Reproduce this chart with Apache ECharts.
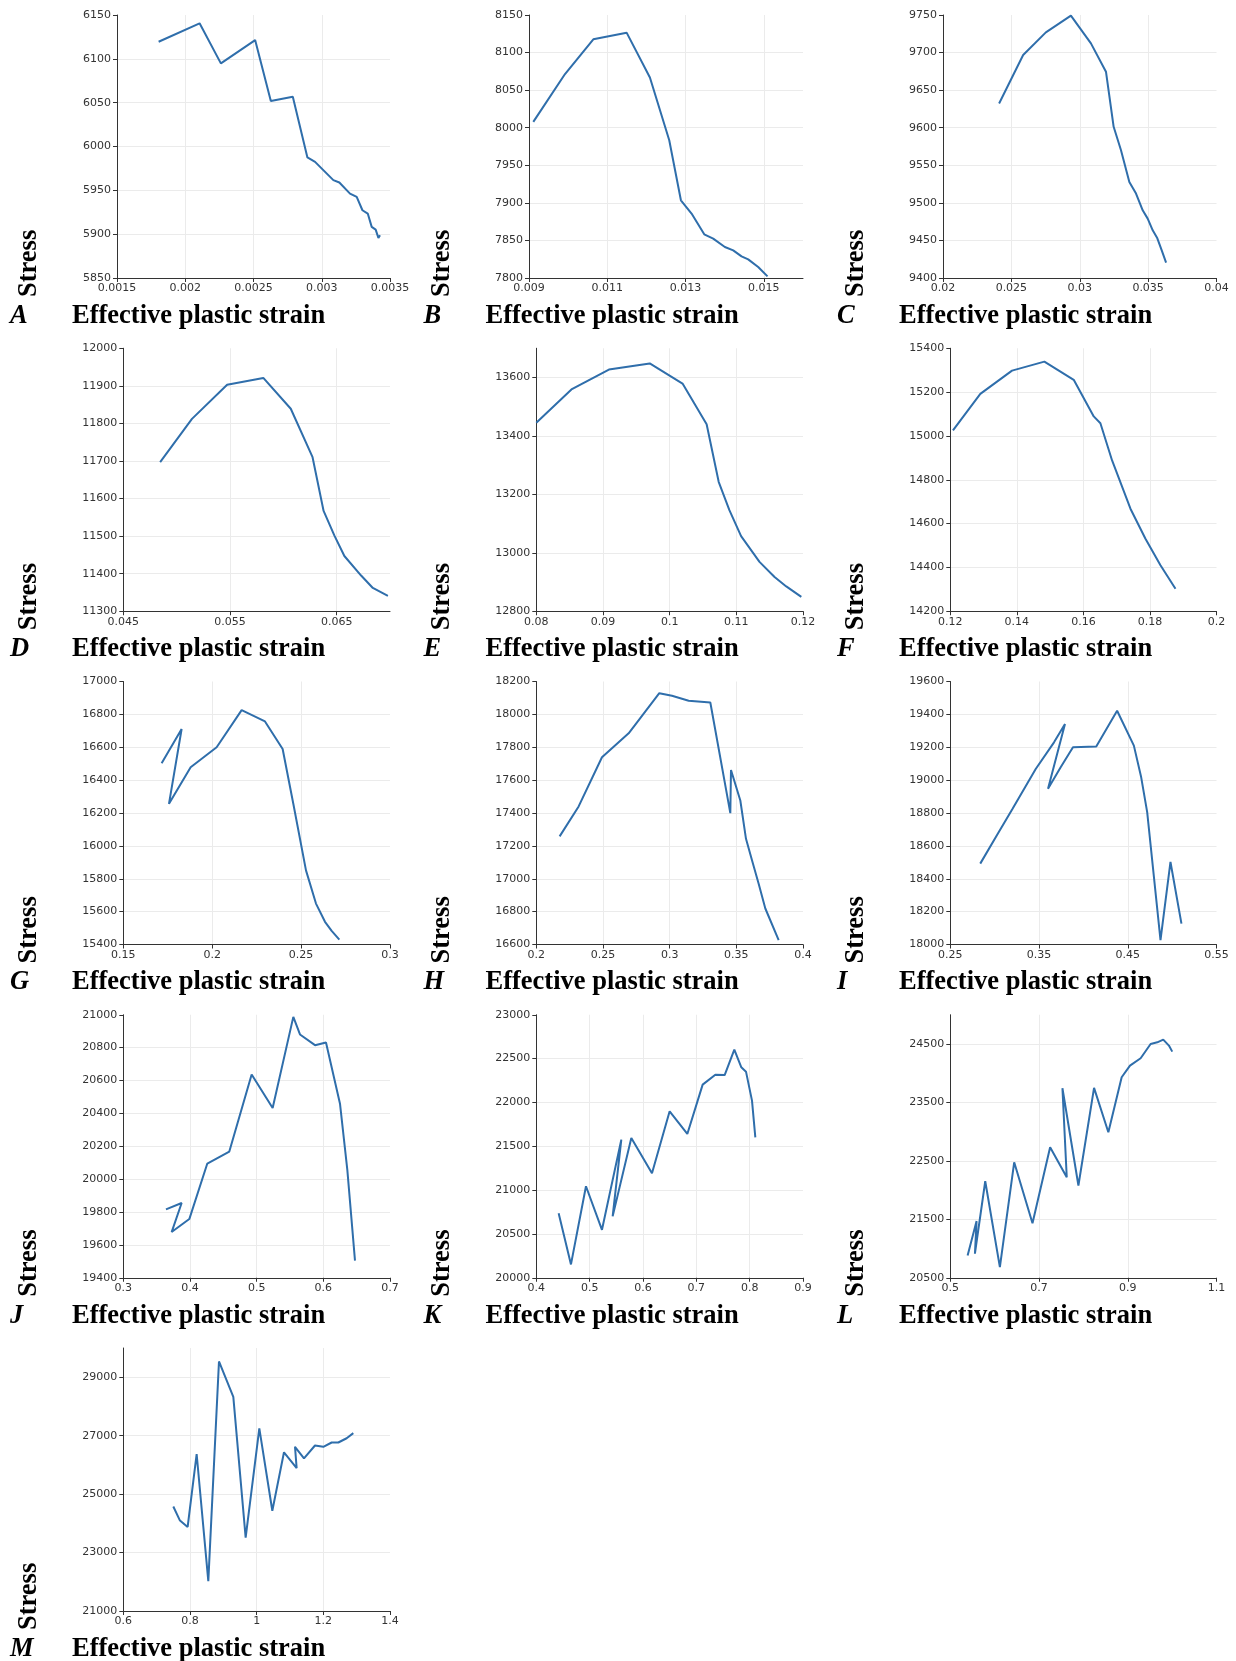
<!DOCTYPE html>
<html>
<head>
<meta charset="utf-8">
<script src="https://cdn.jsdelivr.net/npm/echarts@6/dist/echarts.min.js"></script>
<style>
html,body{margin:0;padding:0;background:#fff;}
#chart{width:1236px;height:1661px;}
</style>
</head>
<body>
<div id="chart"></div>
<script>
// ---------- data ----------
const panelLetters = ['A','B','C','D','E','F','G','H','I','J','K','L','M'];
const xAxisTitle = 'Effective plastic strain';
const yAxisTitle = 'Stress';

const strainA = [0.001805,0.002105,0.002261,0.002512,0.002627,0.002788,0.002895,0.002951,0.003085,0.003129,0.003207,0.003256,0.003298,0.003337,0.003366,0.003395,0.003415,0.003427];
const stressA = [6119.5,6140.5,6094.8,6121.4,6051.8,6056.7,5987.5,5982.5,5961.6,5958.9,5946.3,5942.5,5927.3,5923.5,5908.3,5905.2,5895.7,5898.8];

const strainB = [0.00911,0.00992,0.010643,0.011494,0.012089,0.012583,0.012881,0.013153,0.013477,0.013706,0.014004,0.014217,0.01443,0.0146,0.014855,0.015094];
const stressB = [8007.8,8071.4,8117.6,8126.5,8066.9,7983.4,7903.4,7885.7,7858.1,7852.4,7841.3,7836.8,7828.8,7824.8,7814.6,7802.2];

const strainC = [0.024103,0.025861,0.027521,0.029353,0.030818,0.031917,0.032479,0.033016,0.033626,0.034115,0.034603,0.034969,0.035336,0.035653,0.035995,0.036313];
const stressC = [9632.3,9696.7,9726.9,9749.1,9712.2,9674.5,9601.2,9570.1,9527.9,9512.3,9490.1,9479.0,9463.5,9453.7,9436.8,9420.4];

const strainD = [0.048454,0.051436,0.054733,0.058124,0.060699,0.06274,0.063776,0.06478,0.065722,0.067292,0.068391,0.069804];
const stressD = [11697,11812,11903,11921,11839,11710,11567,11502,11447,11395,11362,11341];

const strainE = [0.08,0.08527,0.090891,0.097014,0.101932,0.105546,0.107353,0.108959,0.110715,0.113476,0.115734,0.117491,0.119749];
const stressE = [13445,13559,13627,13648,13579,13440,13243,13146,13057,12969,12917,12885,12849];

const strainF = [0.1208,0.12902,0.13855,0.14827,0.15709,0.16311,0.16511,0.16862,0.17414,0.17865,0.18316,0.18767];
const stressF = [15025,15192,15298,15339,15256,15089,15058,14888,14668,14531,14410,14303];

const strainG = [0.17156,0.18281,0.17569,0.18788,0.2025,0.21656,0.22969,0.23962,0.24562,0.25275,0.25837,0.26344,0.26719,0.2715];
const stressG = [16502,16711,16256,16478,16600,16826,16757,16589,16256,15851,15649,15538,15483,15430];

const strainH = [0.2175,0.23175,0.24925,0.26925,0.29225,0.30175,0.31425,0.3305,0.3455,0.346,0.353,0.35725,0.36175,0.36675,0.37175,0.38175];
const stressH = [17258,17440,17739,17885,18129,18113,18083,18072,17399,17662,17476,17243,17112,16970,16819,16626];

const strainI = [0.28375,0.3025,0.32,0.34625,0.36688,0.37925,0.36013,0.37438,0.38825,0.4145,0.438,0.45688,0.46513,0.47188,0.48688,0.49813,0.5105];
const stressI = [18492,18664,18825,19068,19230,19341,18947,19078,19200,19204,19422,19210,19017,18805,18026,18502,18127];

const strainJ = [0.364,0.3875,0.3725,0.399,0.426,0.459,0.4925,0.524,0.555,0.565,0.5875,0.604,0.625,0.636,0.6475];
const stressJ = [19816,19855,19678,19757,20095,20168,20636,20433,20987,20880,20815,20831,20459,20056,19504];

const strainK = [0.44188,0.465,0.49313,0.52313,0.55938,0.54313,0.57813,0.61688,0.65,0.68313,0.71188,0.73563,0.75313,0.77125,0.78438,0.79313,0.80438,0.81063];
const stressK = [20736,20152,21044,20547,21576,20700,21595,21192,21899,21640,22203,22316,22312,22601,22400,22351,22020,21602];

const strainL = [0.539,0.55925,0.5555,0.57875,0.61175,0.644,0.68525,0.725,0.7625,0.75275,0.78875,0.824,0.85625,0.88625,0.905,0.929,0.9515,0.9665,0.98,0.99275,1.00025];
const stressL = [20882,21469,20911,22151,20682,22476,21434,22732,22219,23742,22078,23748,22990,23930,24130,24255,24500,24528,24574,24472,24369];

const strainM = [0.75,0.77,0.793,0.82,0.855,0.887,0.93,0.967,1.008,1.047,1.082,1.12,1.115,1.142,1.175,1.2,1.225,1.245,1.27,1.29];
const stressM = [24577,24095,23876,26372,22022,29540,28328,23511,27248,24431,26431,25891,26620,26226,26664,26620,26766,26766,26912,27087];

// axis ranges / tick steps
const xMins  = [0.0015,0.009,0.02,0.045,0.08,0.12,0.15,0.2,0.25,0.3,0.4,0.5,0.6];
const xMaxs  = [0.0035,0.016,0.04,0.07,0.12,0.2,0.3,0.4,0.55,0.7,0.9,1.1,1.4];
const xSteps = [0.0005,0.002,0.005,0.01,0.01,0.02,0.05,0.05,0.1,0.1,0.1,0.2,0.2];
const yMins  = [5850,7800,9400,11300,12800,14200,15400,16600,18000,19400,20000,20500,21000];
const yMaxs  = [6150,8150,9750,12000,13700,15400,17000,18200,19600,21000,23000,25000,30000];
const ySteps = [50,50,50,100,200,200,200,200,200,200,500,1000,2000];

const strains = [strainA,strainB,strainC,strainD,strainE,strainF,strainG,strainH,strainI,strainJ,strainK,strainL,strainM];
const stresses = [stressA,stressB,stressC,stressD,stressE,stressF,stressG,stressH,stressI,stressJ,stressK,stressL,stressM];

// ---------- layout / style ----------
const LINE_COLOR = '#2f6eab';
const AXIS_COLOR = '#333';
const GRID_COLOR = '#ebebeb';
const LABEL_FONT = 'DejaVu Sans';
const SERIF = 'Liberation Serif';
const rowPitch = 333.25;
const colPitch = 413.5;
const leftRow0 = [117, 529, 943];
const leftOther = [123.3, 536.3, 950.3];
const rightEdge = [390, 803, 1216.5];

function isMultiple(a, b) { const r = a / b; return Math.abs(r - Math.round(r)) < 1e-6; }
function fmt(v) { return String(parseFloat(Number(v).toFixed(8))); }

const grids = [], xAxes = [], yAxes = [], series = [], graphics = [];
for (let i = 0; i < panelLetters.length; i++) {
  const r = Math.floor(i / 3), c = i % 3;
  const top = 15 + rowPitch * r;
  const bottom = top + 263;
  const left = (r === 0 ? leftRow0 : leftOther)[c];
  grids.push({ left: left, top: top, width: rightEdge[c] - left, height: 263, containLabel: false });
  const axisCommon = {
    type: 'value',
    axisLine: { show: true, lineStyle: { color: AXIS_COLOR, width: 1 } },
    axisTick: { show: true, length: 4, lineStyle: { color: AXIS_COLOR } },
    splitLine: { show: true, showMinLine: false, showMaxLine: false, lineStyle: { color: GRID_COLOR, width: 1 } },
  };
  xAxes.push(Object.assign({}, axisCommon, {
    gridIndex: i, min: xMins[i], max: xMaxs[i], interval: xSteps[i],
    axisLabel: { color: '#333', fontFamily: LABEL_FONT, fontSize: 11, margin: 5,
      showMaxLabel: isMultiple(xMaxs[i] - xMins[i], xSteps[i]), showMinLabel: true, formatter: fmt }
  }));
  yAxes.push(Object.assign({}, axisCommon, {
    gridIndex: i, min: yMins[i], max: yMaxs[i], interval: ySteps[i],
    axisLabel: { color: '#333', fontFamily: LABEL_FONT, fontSize: 11, margin: 6,
      showMaxLabel: isMultiple(yMaxs[i] - yMins[i], ySteps[i]), showMinLabel: true, formatter: fmt }
  }));
  series.push({
    type: 'line', xAxisIndex: i, yAxisIndex: i,
    data: strains[i].map((x, k) => [x, stresses[i][k]]),
    showSymbol: false, symbol: 'none', smooth: false,
    lineStyle: { color: LINE_COLOR, width: 2 }, itemStyle: { color: LINE_COLOR },
    silent: true
  });
  const cx = c * colPitch;
  graphics.push({
    type: 'text', x: cx + 10, y: bottom + 38,
    style: { text: panelLetters[i], font: 'italic bold 26.5px "' + SERIF + '"', fill: '#000', textAlign: 'left', textVerticalAlign: 'middle' }
  });
  graphics.push({
    type: 'text', x: cx + 72, y: bottom + 38,
    style: { text: xAxisTitle, font: 'bold 26.5px "' + SERIF + '"', fill: '#000', textAlign: 'left', textVerticalAlign: 'middle' }
  });
  graphics.push({
    type: 'text', x: cx + 29, y: bottom + 19, rotation: Math.PI / 2,
    style: { text: yAxisTitle, font: 'bold 26.5px "' + SERIF + '"', fill: '#000', textAlign: 'left', textVerticalAlign: 'middle' }
  });
}

const chart = echarts.init(document.getElementById('chart'), null, { renderer: 'canvas' });
chart.setOption({
  animation: false,
  backgroundColor: '#fff',
  grid: grids,
  xAxis: xAxes,
  yAxis: yAxes,
  series: series,
  graphic: graphics
});
</script>
</body>
</html>
